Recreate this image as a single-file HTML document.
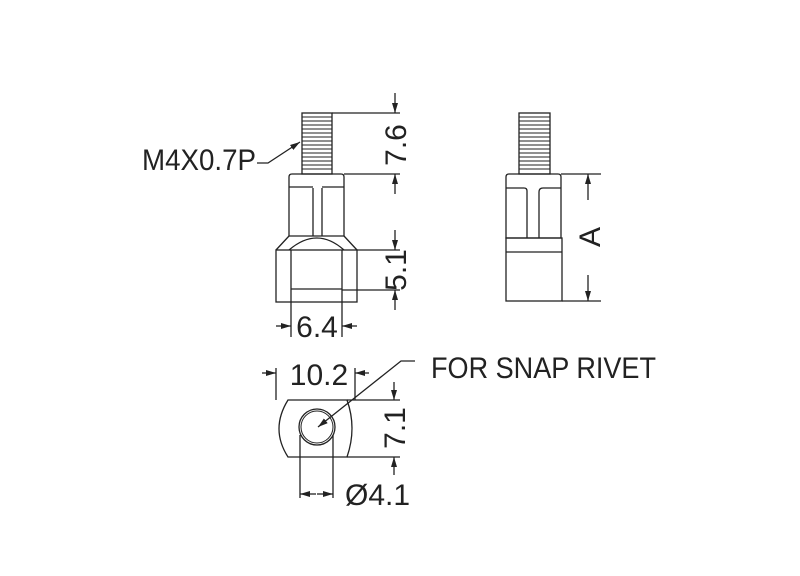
<!DOCTYPE html>
<html><head><style>html,body{margin:0;padding:0;background:#fff}svg{display:block}</style></head><body>
<svg width="800" height="576" viewBox="0 0 800 576" xmlns="http://www.w3.org/2000/svg" font-family="Liberation Sans, sans-serif" fill="none" stroke="#222" stroke-width="1.3">
<defs><marker id="a" markerWidth="10" markerHeight="6" refX="10" refY="3" orient="auto" markerUnits="userSpaceOnUse"><path d="M0,0 L10,3 L0,6 z" fill="#222" stroke="none"/></marker></defs>
<!-- FRONT VIEW -->
<g>
<rect x="302" y="113" width="30" height="61"/>
<g stroke-width="1">
<path d="M302 117h30M302 121h30M302 125h30M302 129h30M302 133h30M302 137h30M302 141h30M302 145h30M302 149h30M302 153h30M302 157h30M302 161h30M302 165h30M302 169h30"/>
</g>
<path d="M289 177q0-3 3-3h49q3 0 3 3v59h-55z"/>
<path d="M289 187h24M322 187h22M313 188v48M322 188v48"/>
<path d="M289 236l-13 14M344 236l13 14"/>
<path d="M289 250q28-24 55 0"/>
<rect x="276" y="250" width="81" height="52"/>
<path d="M291 250v52M342 250v52M291 289h51"/>
</g>
<!-- M4 leader -->
<path d="M257 163h11l32-21" marker-end="url(#a)"/>
<text x="142" y="170" font-size="30" fill="#222" stroke="none" textLength="114" lengthAdjust="spacingAndGlyphs">M4X0.7P</text>
<!-- 7.6 / 5.1 dims -->
<path d="M332 113h68M344 174h56M357 250h43M342 290h58"/>
<path d="M395 93v20" marker-end="url(#a)"/>
<path d="M395 194v-20" marker-end="url(#a)"/>
<path d="M395 230v20" marker-end="url(#a)"/>
<path d="M395 310v-20" marker-end="url(#a)"/>
<text transform="translate(406,145) rotate(-90)" text-anchor="middle" font-size="30" fill="#222" stroke="none">7.6</text>
<text transform="translate(406,270) rotate(-90)" text-anchor="middle" font-size="30" fill="#222" stroke="none">5.1</text>
<!-- 6.4 -->
<path d="M291 302v35M342 302v35"/>
<path d="M276 326h15" marker-end="url(#a)"/>
<path d="M357 326h-15" marker-end="url(#a)"/>
<text x="317" y="337" text-anchor="middle" font-size="30" fill="#222" stroke="none">6.4</text>
<!-- SIDE VIEW -->
<rect x="519" y="113" width="31" height="61"/>
<g stroke-width="1">
<path d="M519 117h31M519 121h31M519 125h31M519 129h31M519 133h31M519 137h31M519 141h31M519 145h31M519 149h31M519 153h31M519 157h31M519 161h31M519 165h31M519 169h31"/>
</g>
<path d="M506 177q0-3 3-3h49q3 0 3 3v61h-55z"/>
<path d="M506 188h18q3 0 3 3v47M561 188h-18q-4 0-4 4v46"/>
<rect x="506" y="238" width="56" height="63"/>
<path d="M506 252h56"/>
<path d="M561 174h40M562 301h39"/>
<path d="M588 200v-26" marker-end="url(#a)"/>
<path d="M588 275v26" marker-end="url(#a)"/>
<text transform="translate(600,237) rotate(-90)" text-anchor="middle" font-size="30" fill="#222" stroke="none">A</text>
<!-- BOTTOM VIEW -->
<path d="M288 400h59q10 28 0 57h-59q-18-28 0-57z"/>
<path d="M288 400q-12 28 0 57" stroke="none"/>
<circle cx="317" cy="427" r="18"/>
<circle cx="317" cy="427" r="16" stroke-width="1"/>
<path d="M276 368v32M355 368v32"/>
<path d="M262 373h14" marker-end="url(#a)"/>
<path d="M369 373h-14" marker-end="url(#a)"/>
<text x="319" y="385" text-anchor="middle" font-size="30" fill="#222" stroke="none">10.2</text>
<path d="M347 400h53M347 457h53"/>
<path d="M394 382v18" marker-end="url(#a)"/>
<path d="M394 475v-18" marker-end="url(#a)"/>
<text transform="translate(405,428) rotate(-90)" text-anchor="middle" font-size="30" fill="#222" stroke="none">7.1</text>
<path d="M300 435v63M333 435v63"/>
<path d="M316 494h-16" marker-end="url(#a)"/>
<path d="M317 494h16" marker-end="url(#a)"/>
<text x="345" y="505" font-size="30" fill="#222" stroke="none">Ø4.1</text>
<path d="M415 361h-14l-83 66" marker-end="url(#a)"/>
<text x="431" y="378" font-size="30" fill="#222" stroke="none" textLength="225" lengthAdjust="spacingAndGlyphs">FOR SNAP RIVET</text>
</svg>
</body></html>
